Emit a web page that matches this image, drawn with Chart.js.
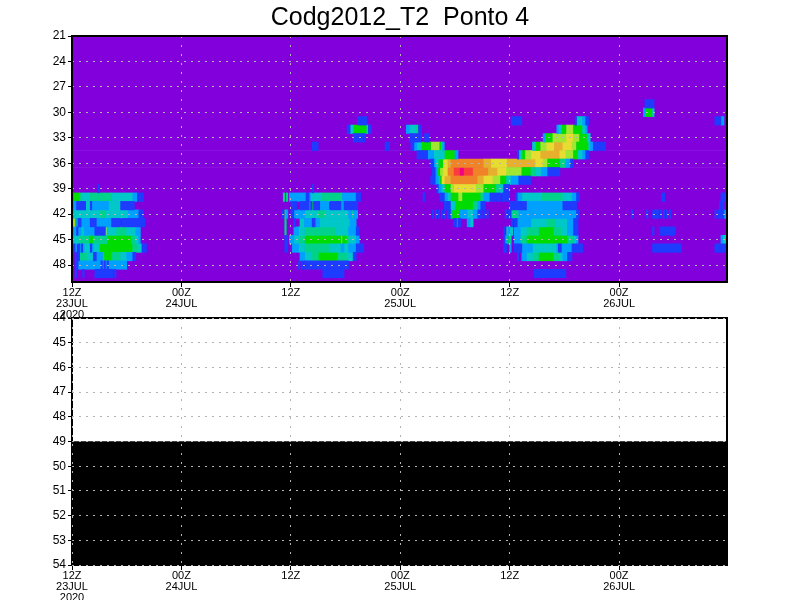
<!DOCTYPE html>
<html>
<head>
<meta charset="utf-8">
<style>
html,body{margin:0;padding:0;background:#fff;width:800px;height:600px;overflow:hidden}
canvas{position:absolute;left:0;top:0}
</style>
<script src="https://cdn.jsdelivr.net/npm/chart.js@4"></script>
</head>
<body>
<canvas id="top" width="800" height="600"></canvas>
<canvas id="bottom" width="800" height="600"></canvas>
<script>
const titleText = 'Codg2012_T2  Ponto 4';
// time axis: ten-minute steps since 12Z 23JUL2020
const timeTicks = [0,72,144,216,288,360];
const timeLabelsTop = [['12Z','23JUL','2020'],['00Z','24JUL'],['12Z'],['00Z','25JUL'],['12Z'],['00Z','26JUL']];
const lastStep = 431;
const topLevels = [21,24,27,30,33,36,39,42,45,48];
const bottomLevels = [44,45,46,47,48,49,50,51,52,53,54];
const allTopRows = [21,22,23,24,25,26,27,28,29,30,31,32,33,34,35,36,37,38,39,40,41,42,43,44,45,46,47,48,49,50];
const blackRows = [49.5,50.5,51.5,52.5,53.5];
const bandColors = ['#8200dc','#1e3cff','#00a0ff','#00c8c8','#00d28c','#00dc00','#a0e632','#e6dc32','#e6af2d','#f08228','#fa3c3c','#f00082'];

// each row: [startStep, endStep, colour band]
const row29 = [[377,383,1]];
const row30 = [[376,377,2],[377,382,5],[382,383,3]];
const row31 = [[188,194,1],[289,296,1],[331,332,1],[332,336,3],[336,338,2],[338,340,1],[423,427,1],[427,429,2]];
const row32 = [[181,183,1],[183,185,3],[185,194,5],[194,195,3],[195,197,1],[220,222,2],[222,226,3],[226,228,4],[228,230,1],[319,320,2],[320,322,3],[322,325,5],[325,330,6],[330,336,5],[336,338,3],[338,339,2]];
const row33 = [[185,193,1],[222,230,1],[232,235,1],[310,311,2],[311,316,5],[316,325,6],[325,330,7],[330,334,6],[334,339,5],[339,341,3]];
const row34 = [[158,162,1],[206,209,1],[223,225,1],[225,227,2],[227,230,3],[230,236,5],[236,242,6],[242,243,5],[243,244,3],[244,245,2],[303,305,3],[305,308,5],[308,312,6],[312,317,7],[317,323,8],[323,329,7],[329,332,6],[332,340,5],[340,341,3],[341,343,2],[343,351,1]];
const row35 = [[227,234,1],[234,238,2],[238,245,3],[245,252,5],[252,254,2],[293,294,1],[294,296,3],[296,298,5],[298,302,6],[302,308,7],[308,321,8],[321,325,7],[325,330,6],[330,333,5],[333,336,3],[336,338,2],[338,340,1]];
const row36 = [[236,238,1],[238,239,2],[239,241,3],[241,244,5],[244,247,7],[247,249,8],[249,271,9],[271,276,8],[276,286,7],[286,305,8],[305,310,7],[310,313,6],[313,321,5],[321,325,4],[325,328,2],[328,330,1]];
const row37 = [[237,239,1],[239,240,2],[240,242,5],[242,244,6],[244,247,7],[247,251,9],[251,255,10],[255,258,11],[258,264,10],[264,274,9],[274,280,8],[280,286,7],[286,296,6],[296,302,5],[302,305,4],[305,309,3],[309,313,2],[313,321,1]];
const row38 = [[236,239,1],[239,241,2],[241,242,3],[242,243,5],[243,245,7],[245,249,8],[249,267,9],[267,271,8],[271,277,7],[277,282,6],[282,286,5],[286,289,3],[289,294,2],[294,302,1]];
const row39 = [[17,18,1],[158,159,1],[240,241,1],[241,243,2],[243,245,3],[245,249,5],[249,251,6],[251,266,7],[266,271,6],[271,279,5],[279,282,4],[282,284,3],[284,288,1]];
const row40 = [[1,5,5],[5,7,4],[7,11,3],[11,26,4],[26,40,3],[40,43,2],[43,47,1],[139,140,4],[141,142,4],[143,154,2],[154,156,1],[156,157,2],[157,164,3],[164,178,4],[178,187,2],[187,190,1],[231,232,1],[242,245,1],[245,247,2],[247,249,3],[249,254,5],[254,257,6],[257,269,5],[269,271,4],[271,275,2],[275,282,1],[283,288,1],[292,293,1],[293,296,2],[296,309,3],[309,323,4],[323,329,3],[329,332,2],[332,334,1],[388,390,1],[427,432,1]];
const row41 = [[1,3,2],[3,9,1],[9,12,3],[12,13,1],[13,24,2],[24,32,3],[32,41,1],[144,148,1],[150,156,1],[156,157,2],[157,158,1],[158,159,5],[159,163,1],[163,169,2],[170,177,1],[177,179,2],[179,188,1],[245,249,1],[249,252,3],[252,264,5],[264,267,4],[267,269,2],[269,272,1],[288,299,1],[299,323,2],[323,332,1],[426,427,1],[428,429,1],[430,431,1]];
const row42 = [[1,18,3],[18,22,4],[22,37,3],[37,44,2],[44,47,1],[138,139,1],[140,141,4],[141,142,2],[144,146,1],[146,153,2],[153,161,3],[161,167,4],[167,182,3],[182,184,2],[184,185,4],[185,188,2],[237,238,1],[239,240,1],[241,242,1],[243,244,1],[245,246,1],[247,249,1],[249,250,2],[250,255,5],[255,260,2],[260,264,3],[264,267,2],[267,270,1],[271,272,1],[273,274,1],[285,286,1],[287,289,1],[289,294,4],[294,332,2],[332,334,1],[368,369,1],[378,379,1],[382,386,1],[387,388,1],[389,390,1],[391,392,1],[393,394,1],[423,424,1],[425,429,1],[429,432,2]];
const row43 = [[1,2,7],[2,3,5],[3,4,2],[4,6,1],[6,12,2],[12,16,1],[16,26,2],[26,32,1],[33,48,1],[140,141,4],[146,147,1],[150,153,3],[153,158,2],[158,160,1],[160,163,2],[163,183,3],[183,187,2],[251,253,1],[253,254,2],[254,256,1],[260,262,2],[262,264,3],[289,290,1],[291,293,1],[293,302,2],[302,312,3],[312,318,4],[318,326,3],[326,330,2],[330,333,1]];
const row44 = [[1,3,2],[3,4,1],[4,6,2],[6,8,3],[8,15,2],[15,22,1],[22,23,6],[23,29,3],[29,36,4],[36,42,3],[42,45,2],[140,141,4],[146,149,2],[149,153,3],[153,174,4],[174,182,3],[182,187,2],[187,189,1],[284,285,1],[286,287,3],[287,288,2],[288,290,3],[291,295,2],[295,299,3],[299,307,4],[307,317,5],[317,322,4],[322,326,3],[326,330,2],[330,333,1],[382,383,1],[387,397,1],[431,432,1]];
const row45 = [[1,4,3],[4,11,4],[11,14,5],[14,23,4],[23,39,5],[39,42,4],[42,44,3],[44,45,2],[140,142,1],[143,146,2],[146,149,3],[149,153,4],[153,177,5],[177,178,6],[178,181,5],[181,183,4],[183,187,3],[187,189,2],[284,285,1],[285,286,4],[286,287,2],[287,288,5],[288,289,4],[291,295,2],[295,299,4],[299,326,5],[326,330,4],[330,332,3],[332,333,2],[427,428,2],[428,432,3]];
const row46 = [[1,2,1],[2,3,2],[4,5,1],[5,6,2],[6,7,1],[7,8,2],[8,12,3],[12,13,1],[13,14,2],[14,18,3],[18,40,5],[40,44,4],[44,46,3],[46,49,1],[140,142,1],[145,149,2],[149,153,3],[153,170,4],[170,177,3],[177,179,2],[179,182,3],[182,187,2],[187,192,1],[284,286,1],[288,289,2],[291,296,1],[296,303,2],[303,319,3],[319,320,2],[320,322,1],[322,329,2],[329,336,1],[382,401,1],[423,431,1],[431,432,2]];
const row47 = [[2,3,1],[4,5,1],[5,10,4],[10,14,3],[14,16,1],[16,20,2],[20,21,4],[21,26,5],[26,32,4],[32,36,3],[36,40,2],[40,42,1],[150,153,2],[153,157,3],[157,162,4],[162,175,5],[175,181,4],[181,185,3],[185,187,1],[293,294,1],[296,299,2],[299,303,3],[303,307,4],[307,317,5],[317,321,4],[321,323,3],[323,326,2],[326,329,1]];
const row48 = [[2,4,1],[4,19,2],[19,20,1],[20,21,2],[21,22,1],[22,23,2],[23,24,1],[24,36,2],[149,150,1],[151,152,1],[153,154,1],[154,182,1]];
const row49 = [[2,3,1],[7,8,1],[15,27,1],[28,29,1],[165,179,1],[304,325,1]];
const heatRows = {29:row29,30:row30,31:row31,32:row32,33:row33,34:row34,35:row35,36:row36,37:row37,38:row38,39:row39,40:row40,41:row41,42:row42,43:row43,44:row44,45:row45,46:row46,47:row47,48:row48,49:row49};

const FONT = '"Liberation Sans", sans-serif';
function framePlugin(hook){
  return {id:'frame',[hook](chart){
    const a=chart.chartArea,c=chart.ctx;
    c.save();c.strokeStyle='#000';c.lineWidth=2;c.setLineDash([]);
    c.strokeRect(a.left,a.top,a.right-a.left,a.bottom-a.top);c.restore();
  }};
}
function scales(yMin,yMax,yTicks,xLabels,xHeight){
  return {
    x:{type:'linear',min:0,max:lastStep,
      afterBuildTicks:s=>{s.ticks=timeTicks.map(v=>({value:v}));},
      afterFit:s=>{s.height=xHeight;},
      ticks:{color:'#000',padding:0,autoSkip:false,maxRotation:0,font:{family:FONT,size:11,lineHeight:1},
        callback:(v)=>xLabels[timeTicks.indexOf(v)]},
      grid:{color:'#b4b4b4',lineWidth:1,z:1,tickColor:'#000',tickLength:5,tickBorderDash:[]},
      border:{display:false,dash:[2,7]}},
    y:{type:'linear',reverse:true,min:yMin,max:yMax,offset:false,
      afterBuildTicks:s=>{s.ticks=yTicks.map(v=>({value:v}));},
      afterFit:s=>{s.width=72;},
      ticks:{color:'#000',padding:2,autoSkip:false,font:{family:FONT,size:12},callback:v=>String(v)},
      grid:{color:'#b4b4b4',lineWidth:1,z:1,offset:false,tickColor:'#000',tickLength:4,tickBorderDash:[]},
      border:{display:false,dash:[2,5]}},
    yRight:{type:'linear',position:'right',display:true,
      afterFit:s=>{s.width=73;},
      ticks:{display:false},grid:{display:false},border:{display:false}}
  };
}
const barBase={grouped:false,barPercentage:1,categoryPercentage:1,borderWidth:0,yAxisID:'y',xAxisID:'x'};
const heatSets=bandColors.map((color,band)=>{
  const data=[];
  if(band===0){allTopRows.forEach(y=>data.push({x:[0,lastStep+1],y}));}
  else Object.keys(heatRows).forEach(k=>heatRows[k].forEach(r=>{if(r[2]===band)data.push({x:[r[0],r[1]],y:+k});}));
  return Object.assign({label:'band'+band,data,backgroundColor:color,order:band===0?100:band},barBase);
});
new Chart(document.getElementById('top'),{
  type:'bar',
  data:{datasets:heatSets},
  options:{indexAxis:'y',responsive:false,animation:false,events:[],
    layout:{padding:{left:0,top:0,right:0,bottom:273}},
    plugins:{legend:{display:false},tooltip:{enabled:false},
      title:{display:true,text:titleText,color:'#000',font:{family:FONT,size:25,weight:'normal',lineHeight:1.2},padding:{top:3,bottom:3}}},
    scales:scales(21,50,topLevels,timeLabelsTop,45)},
  plugins:[framePlugin('afterDraw')]
});
new Chart(document.getElementById('bottom'),{
  type:'bar',
  data:{datasets:[Object.assign({label:'black',data:blackRows.map(y=>({x:[0,lastStep+1],y})),backgroundColor:'#000'},barBase)]},
  options:{indexAxis:'y',responsive:false,animation:false,events:[],
    layout:{padding:{left:0,top:318,right:0,bottom:0}},
    plugins:{legend:{display:false},tooltip:{enabled:false},title:{display:false}},
    scales:scales(44,54,bottomLevels,timeLabelsTop,35)},
  plugins:[framePlugin('afterDatasetsDraw')]
});
</script>
</body>
</html>
